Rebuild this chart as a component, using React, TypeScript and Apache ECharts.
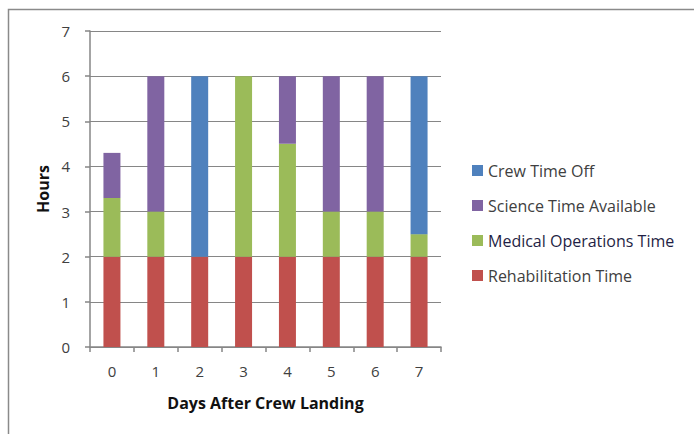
import React, { useEffect, useRef } from "react";
import * as echarts from "echarts";

const days = ["0", "1", "2", "3", "4", "5", "6", "7"];
const rehabilitation = [2, 2, 2, 2, 2, 2, 2, 2];
const medical = [1.3, 1, 0, 4, 2.5, 1, 1, 0.5];
const science = [1, 3, 0, 0, 1.5, 3, 3, 0];
const crewOff = [0, 0, 4, 0, 0, 0, 0, 3.5];
const yTicks = [0, 1, 2, 3, 4, 5, 6, 7];

const FONT = "'Open Sans', Lato, sans-serif";
const AXIS_GRAY = "#868686";

export default function App() {
  const ref = useRef<HTMLDivElement>(null);
  useEffect(() => {
    if (!ref.current) return;
    const chart = echarts.init(ref.current, undefined, { renderer: "svg" });
    const bar = (name: string, data: number[], color: string) => ({
      name,
      type: "bar",
      stack: "total",
      data,
      barWidth: 17,
      itemStyle: { color },
    });
    chart.setOption({
      animation: false,
      backgroundColor: "#ffffff",
      textStyle: { fontFamily: FONT },
      graphic: [
        {
          type: "rect",
          shape: { x: 8.5, y: 9.5, width: 800, height: 800 },
          style: { fill: "none", stroke: "#8a8a8a", lineWidth: 1.5 },
          silent: true,
        },
      ],
      grid: { left: 90, right: 253, top: 31, bottom: 87 },
      legend: {
        orient: "vertical",
        left: 472,
        top: 162,
        padding: 0,
        itemWidth: 11,
        itemHeight: 11,
        itemGap: 18,
        icon: "rect",
        textStyle: { fontFamily: FONT, fontSize: 16, color: "#404040", lineHeight: 17, padding: [0, 0, 0, 0] },
        data: [
          { name: "Crew Time Off" },
          { name: "Science Time Available" },
          { name: "Medical Operations Time", textStyle: { color: "#1f1f45" } },
          { name: "Rehabilitation Time" },
        ],
      },
      xAxis: {
        type: "category",
        data: days,
        name: "Days After Crew Landing",
        nameLocation: "middle",
        nameGap: 48,
        nameTextStyle: { fontFamily: FONT, fontSize: 16, fontWeight: "bold", color: "#111" },
        axisLine: { lineStyle: { color: AXIS_GRAY, width: 1.5 } },
        axisTick: { show: true, length: 5, lineStyle: { color: AXIS_GRAY, width: 1.5 } },
        axisLabel: { fontFamily: FONT, fontSize: 15, color: "#404040", margin: 16 },
      },
      yAxis: {
        type: "value",
        min: yTicks[0],
        max: yTicks[yTicks.length - 1],
        interval: 1,
        name: "Hours",
        nameLocation: "middle",
        nameGap: 38,
        nameRotate: 90,
        nameTextStyle: { fontFamily: FONT, fontSize: 16, fontWeight: "bold", color: "#111" },
        axisLine: { show: true, lineStyle: { color: AXIS_GRAY, width: 1.5 } },
        axisTick: { show: true, length: 5, lineStyle: { color: AXIS_GRAY, width: 1.5 } },
        axisLabel: { fontFamily: FONT, fontSize: 15, color: "#404040", margin: 20 },
        splitLine: { lineStyle: { color: AXIS_GRAY, width: 1.2 } },
      },
      series: [
        bar("Rehabilitation Time", rehabilitation, "#C0504D"),
        bar("Medical Operations Time", medical, "#9BBB59"),
        bar("Science Time Available", science, "#8064A2"),
        bar("Crew Time Off", crewOff, "#4F81BD"),
      ],
    });
    return () => chart.dispose();
  }, []);
  return (
    <div
      ref={ref}
      style={{ position: "fixed", left: 0, top: 0, width: 694, height: 434, background: "#fff" }}
    />
  );
}
